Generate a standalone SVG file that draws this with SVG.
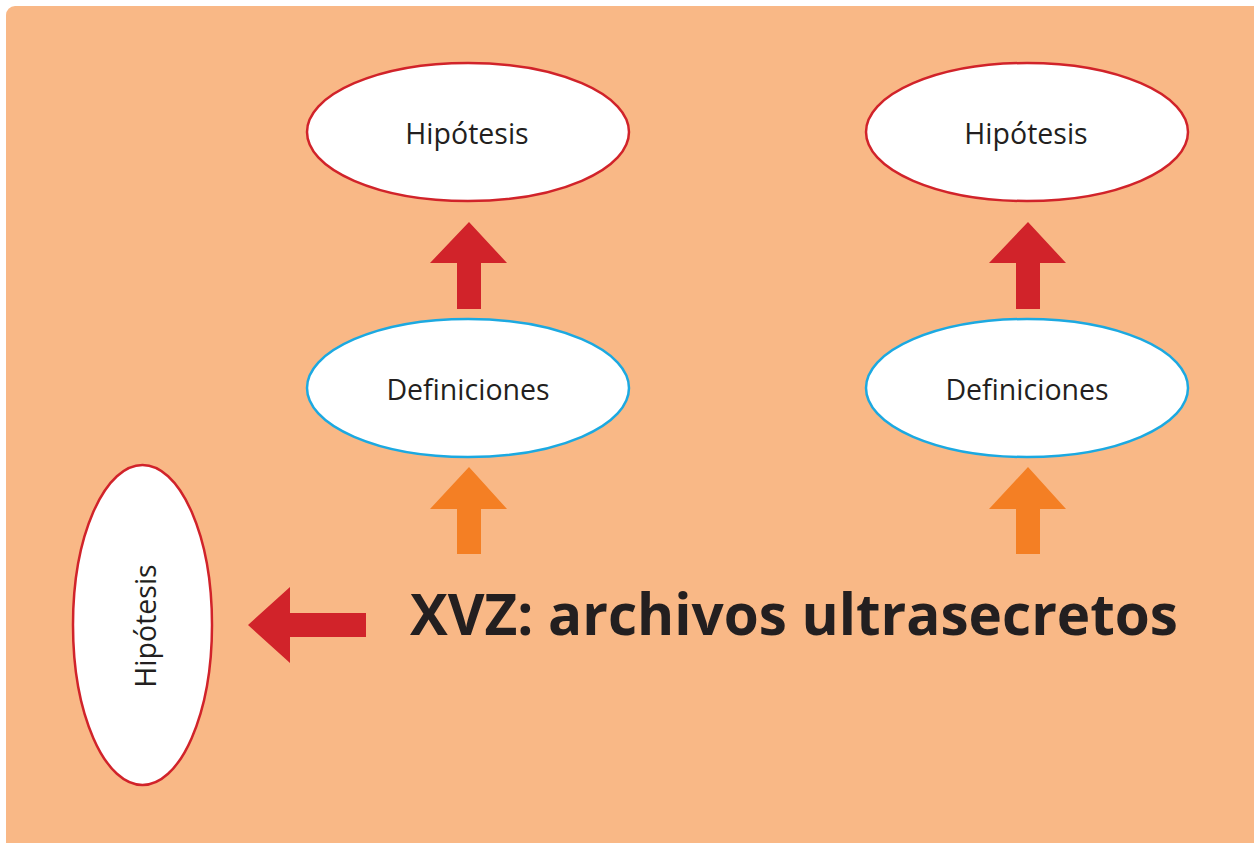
<svg xmlns="http://www.w3.org/2000/svg" width="1254" height="843" viewBox="0 0 1254 843">
<style>
.bg{fill:#F9B886}
.hyp{fill:#FFFFFF;stroke:#D1232A;stroke-width:2.5}
.def{fill:#FFFFFF;stroke:#1CA9E1;stroke-width:2.5}
.lbl{font-family:"Open Sans","Liberation Sans",sans-serif;font-size:28.5px;fill:#231F20;text-anchor:middle}
.title{font-family:"Open Sans","Liberation Sans",sans-serif;font-size:57px;font-weight:bold;fill:#231F20}
.red{fill:#D1232A}
.org{fill:#F47F24}
</style>
<rect class="bg" x="6" y="6" width="1260" height="860" rx="9"/>
<g id="hyp1"><ellipse class="hyp" cx="468" cy="132" rx="161" ry="69"/><text class="lbl" x="467" y="144">Hipótesis</text></g>
<g id="hyp2"><ellipse class="hyp" cx="1027" cy="132" rx="161" ry="69"/><text class="lbl" x="1026" y="144">Hipótesis</text></g>
<g id="def1"><ellipse class="def" cx="468" cy="388" rx="161" ry="69"/><text class="lbl" x="468" y="400">Definiciones</text></g>
<g id="def2"><ellipse class="def" cx="1027" cy="388" rx="161" ry="69"/><text class="lbl" x="1027" y="400">Definiciones</text></g>
<g id="hyp3"><ellipse class="hyp" cx="142.5" cy="625" rx="69.5" ry="160"/><text class="lbl" transform="translate(156 626) rotate(-90)" x="0" y="0">Hipótesis</text></g>
<g id="title"><text class="title" x="410" y="635" textLength="768" lengthAdjust="spacingAndGlyphs">XVZ: archivos ultrasecretos</text></g>
<g id="connectors">
<polygon class="red" points="469,222 507,263 481,263 481,309 457,309 457,263 430,263"/>
<polygon class="red" points="1028,222 1066,263 1040,263 1040,309 1016,309 1016,263 989,263"/>
<polygon class="org" points="469,467 507,509 481,509 481,554 457,554 457,509 430,509"/>
<polygon class="org" points="1028,467 1066,509 1040,509 1040,554 1016,554 1016,509 989,509"/>
<polygon class="red" points="248,625 290,587 290,613 366,613 366,637 290,637 290,663"/>
</g>
</svg>
